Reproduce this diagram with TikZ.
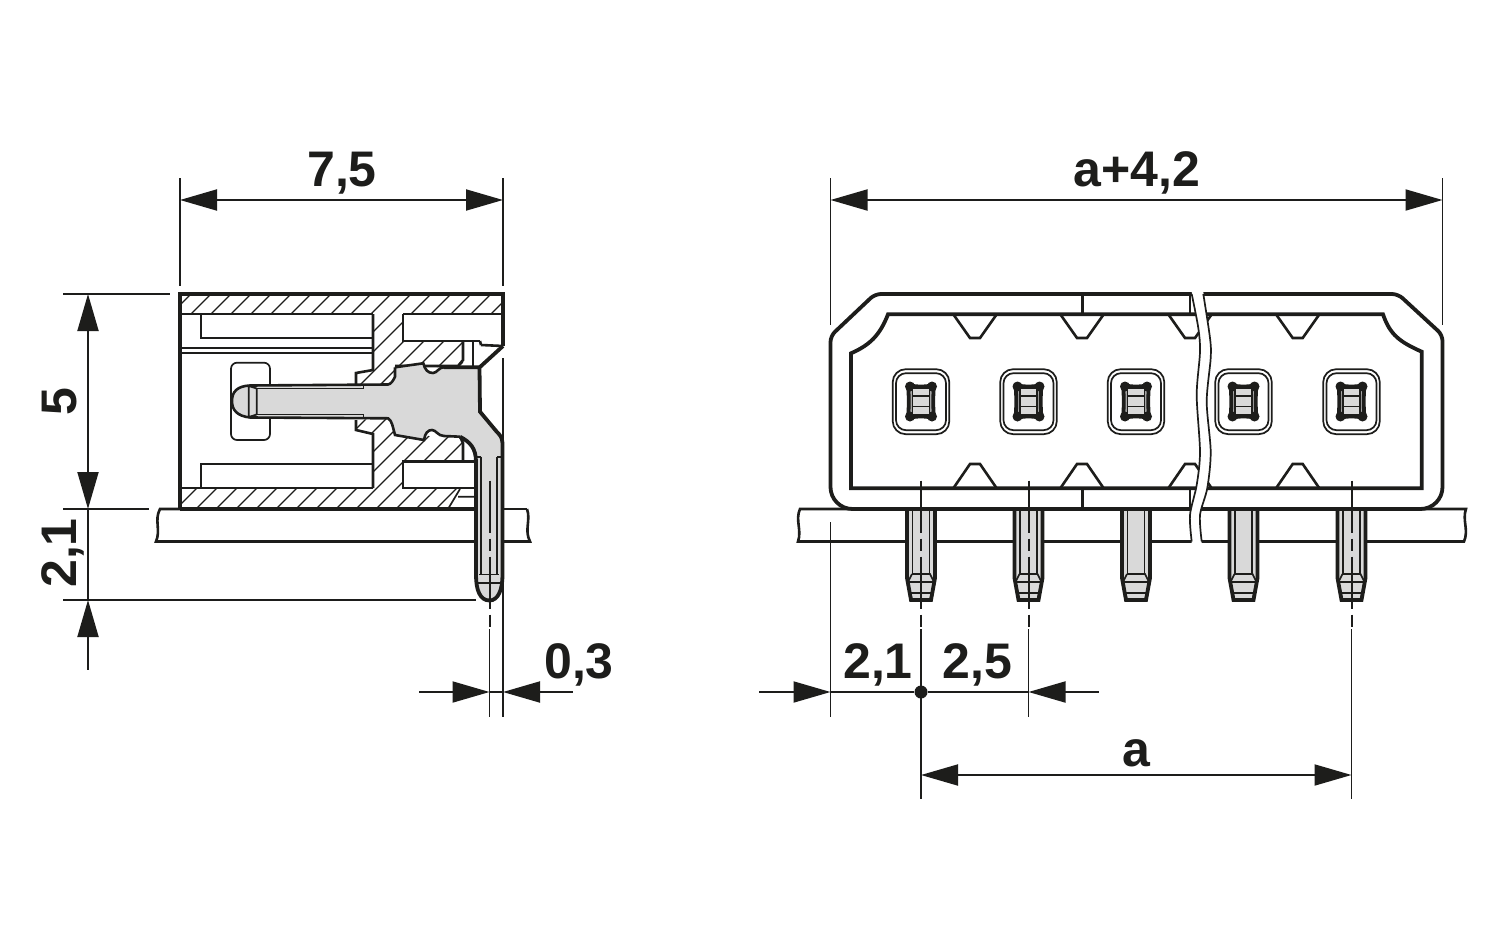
\documentclass[tikz,border=0pt]{standalone}
\usepackage{fontspec}
\setmainfont{Liberation Sans}
\usetikzlibrary{arrows.meta}
\definecolor{pingray}{HTML}{D9D9D9}
\definecolor{inkblack}{HTML}{1D1D1B}

\begin{document}
\begin{tikzpicture}[x=0.5pt,y=-0.5pt,color=inkblack,
	thinline/.style={line width=0.85pt},
	medline/.style={line width=1.3pt},
	thickline/.style={line width=1.9pt},
	hatchline/.style={line width=0.7pt},
	centerline/.style={line width=1pt,dash pattern=on 26pt off 3pt on 6pt off 3pt},
	dimline/.style={line width=0.95pt,>={Triangle[length=18.5pt,width=10.5pt]},shorten >=0pt,shorten <=0pt},
	dimlabel/.style={font=\bfseries\fontsize{25}{25}\selectfont,anchor=base,inner sep=0pt},
	dimdot/.style={circle,fill,inner sep=0pt,minimum size=6.5pt}]
	\useasboundingbox (0,0) rectangle (1500,937);
	\fill[white] (0,0) rectangle (1500,937);

	\draw[medline] (527,509) .. controls (531,520) and (524,530) .. (530,541.5) -- (156,541.5) .. controls (161,530) and (154,520) .. (160,509) -- (476,509);
	\draw[medline] (503,509) -- (527,509);

	\begin{scope}
		\clip (180,294) -- (503,294) -- (503,314) -- (403,314) -- (403,341) -- (463,341) -- (463,367) -- (395,367) -- (388,385) -- (356,385) -- (356,373) -- (373,370) -- (373,314) -- (180,314) -- cycle
			(356,420) -- (388,418) -- (395,435) -- (463,437) -- (463,461.7) -- (403,461.7) -- (403,488) -- (460,488) -- (448,509) -- (180,509) -- (180,488) -- (373,488) -- (373,434) -- (356,430) -- cycle
			(373,370) -- (403,341) -- (403,488) -- (373,488) -- cycle;
		\foreach \c in {485,505,...,1005}
			\draw[hatchline] ({\c-509},509) -- ({\c-294},294);
	\end{scope}

	\draw[medline] (180,314) -- (373,314) (403,314) -- (503,314);
	\draw[medline] (201,314) -- (201,338) -- (373,338);
	\draw[medline] (180,348) -- (373,348);
	\draw[thinline] (180,353) -- (373,353);
	\draw[medline] (373,314) -- (373,370) -- (356,373) -- (356,385);
	\draw[medline] (403,314) -- (403,341) -- (480,341);
	\draw[medline] (481,345) -- (503,346);
	\draw[thickline] (503,346) -- (480,367);
	\draw[medline] (463,341) -- (463,360) -- (458,366) -- (395,366);
	\draw[thinline] (473,341) -- (473,367);
	\draw[medline] (480,341) -- (481,345);
	\draw[medline] (356,420) -- (356,430) -- (373,434) -- (373,488);
	\draw[medline] (201,488) -- (201,464) -- (373,464);
	\draw[medline] (180,488) -- (373,488);
	\draw[medline] (475,461.7) -- (403,461.7) -- (403,488) -- (475,488);
	\draw[medline] (463,461.7) -- (463,443) -- (460,436.7);
	\draw[thinline] (458,496.7) -- (475,496.7) (460,489) -- (448,509);
	\draw[thinline,rounded corners=3pt,fill=white] (231,401) -- (231,362.7) -- (270,362.7) -- (270,440) -- (231,440) -- cycle;
	\draw[thickline] (180,509) -- (180,294) -- (503,294) -- (503,346);
	\draw[thickline] (180,509) -- (476,509);

	\fill[pingray] (250,385.5) .. controls (237,386) and (232,392) .. (232,401) .. controls (232,410) and (237,416) .. (250,417.5) -- (388,418.3)
		.. controls (392,420) and (393,428) .. (395,435) -- (424,440) .. controls (425,433) and (428,430) .. (432,430) .. controls (436,430) and (438,436) .. (444,436) -- (460,436.7)
		.. controls (470,442) and (476,448) .. (476,462) -- (476,575) .. controls (476,590) and (480,600.5) .. (489.5,600.5) .. controls (498,600.5) and (502.5,590) .. (502.5,575)
		-- (502.5,443) .. controls (502,437) and (500,435) .. (496.7,431.7) -- (480,411.7) -- (479.5,367.3) -- (444,367.3) .. controls (439,367) and (437,373) .. (433,373) .. controls (428,373) and (425,370) .. (423.3,363.3)
		-- (395,367.3) -- (395,376.7) .. controls (393,381) and (391,384) .. (388,384.5) -- cycle;
	\draw[medline] (250,385.5) .. controls (237,386) and (232,392) .. (232,401) .. controls (232,410) and (237,416) .. (250,417.5) -- (388,418.3)
		.. controls (392,420) and (393,428) .. (395,435) -- (424,440) .. controls (425,433) and (428,430) .. (432,430) .. controls (436,430) and (438,436) .. (444,436) -- (460,436.7)
		(395,367.3) -- (395,376.7) .. controls (393,381) and (391,384) .. (388,384.5) -- (250,385.5)
		(444,367.3) .. controls (439,367) and (437,373) .. (433,373) .. controls (428,373) and (425,370) .. (423.3,363.3) -- (395,367.3);
	\draw[thickline] (460,436.7) .. controls (470,442) and (476,448) .. (476,462) -- (476,575) .. controls (476,590) and (480,600.5) .. (489.5,600.5) .. controls (498,600.5) and (502.5,590) .. (502.5,575)
		-- (502.5,443) .. controls (502,437) and (500,435) .. (496.7,431.7) -- (480,411.7) -- (479.5,367.3) -- (444,367.3);
	\draw[thinline] (256.7,388.5) -- (363,388.5) (256.7,414.5) -- (363,414.5);
	\draw[thinline] (363.5,385) -- (363.5,389) (363.5,414) -- (363.5,418);
	\draw[thinline] (248.7,386) -- (248.7,417) (256.7,388.5) -- (256.7,414.5) (248.7,386) -- (256.7,388.5) (248.7,417) -- (256.7,414.5);
	\draw[thinline] (480.7,456.7) -- (480.7,574) (497.3,456.7) -- (497.3,574);
	\draw[thinline] (476,456.7) -- (480.7,456.7) (497.3,456.7) -- (502.5,456.7);
	\draw[thinline] (479,574.5) -- (499,574.5) (477,583) -- (501,583);

	\draw[medline] (798,541.5) .. controls (802,530) and (795,520) .. (800,509) -- (1466,509) .. controls (1462,520) and (1469,530) .. (1464,541.5) -- cycle;

	\foreach \x in {921,1028.5,1136,1243.5,1351.5} {
		\begin{scope}[shift={(\x,0)}]
			\draw[thickline,fill=pingray] (-14,509) -- (-14,578) -- (-10,600) -- (10,600) -- (14,578) -- (14,509);
			\draw[thinline] (-8.5,509) -- (-8.5,574) (8.5,509) -- (8.5,574);
			\draw[thinline] (-9,574) -- (9,574) -- (13,582) -- (9.5,598) (-9,574) -- (-13,582) -- (-9.5,598);
			\draw[thinline] (-13,582) -- (13,582) (-10.5,593) -- (10.5,593);
			\draw[thinline,rounded corners=6.5pt,fill=white] (-28.3,369.2) rectangle (28.3,434.2);
			\draw[thinline,rounded corners=5pt] (-25,373.2) rectangle (25,430.2);
			\draw[thickline,fill=gray!70,line join=round] (-13,385) .. controls (-4,387) and (4,387) .. (13,385) .. controls (12,395) and (12,408) .. (13,418) .. controls (4,416) and (-4,416) .. (-13,418) .. controls (-12,408) and (-12,395) .. (-13,385) -- cycle;
			\foreach \sx in {-11,11}
				\foreach \sy in {386.5,416.5}
					\fill (\sx,\sy) circle[radius=5];
			\draw[thinline,fill=pingray] (-8.5,388.5) -- (8.5,388.5) -- (8.5,414.5) -- (-8.5,414.5) -- cycle;
			\draw[thinline] (-8.5,396) -- (8.5,396) (-8.5,406.5) -- (8.5,406.5);
		\end{scope}
	}

	\foreach \x in {975,1082,1190,1297.7} {
		\draw[medline,fill=white] (\x-21.7,314.3) -- (\x-5,338) -- (\x+5,338) -- (\x+21.7,314.3);
		\draw[medline,fill=white] (\x-21.7,488.3) -- (\x-5,464) -- (\x+5,464) -- (\x+21.7,488.3);
	}
	\foreach \x in {1082.3,1190}
		\draw[medline] (\x,294) -- (\x,314.3) (\x,488.3) -- (\x,509);
	\draw[thickline] (888,314.3) -- (1383,314.3) .. controls (1390,335) and (1400,342) .. (1421.7,351.7) -- (1421.7,488.3) -- (851,488.3) -- (851,353.3) .. controls (870,345) and (880,335) .. cycle;
	\draw[thickline,rounded corners=3pt] (875,294) -- (1398,294) -- (1442.5,335) [rounded corners=11pt] -- (1442.5,509) -- (830.5,509) [rounded corners=3pt] -- (830.5,336) -- cycle;

	\fill[white] plot[smooth] coordinates {(1191.7,292) (1198.3,328) (1200,352) (1196.7,395) (1200,451.7) (1196.7,485) (1190,515) (1191.7,543)}
		-- plot[smooth] coordinates {(1201.7,543) (1200,515) (1207.3,488) (1210.7,451.7) (1206.7,401.7) (1210.7,358) (1210,338) (1203.3,292)} -- cycle;
	\draw[thinline] plot[smooth] coordinates {(1191.7,294) (1198.3,328) (1200,352) (1196.7,395) (1200,451.7) (1196.7,485) (1190,515) (1191.7,541.5)};
	\draw[thinline] plot[smooth] coordinates {(1203.3,294) (1210,338) (1210.7,358) (1206.7,401.7) (1210.7,451.7) (1207.3,488) (1200,515) (1201.7,541.5)};

	\coordinate (w0) at (180,200);
	\coordinate (w1) at (503,200);
	\coordinate (t0) at (830.5,200);
	\coordinate (t1) at (1442.5,200);
	\coordinate (h0) at (88,294);
	\coordinate (h1) at (88,509);
	\coordinate (h2) at (88,600);
	\coordinate (h3) at (88,670);
	\coordinate (o0) at (419,692);
	\coordinate (o1) at (489.5,692);
	\coordinate (o2) at (503,692);
	\coordinate (o3) at (573,692);
	\coordinate (p0) at (759,692);
	\coordinate (p1) at (830.5,692);
	\coordinate (p2) at (1028.5,692);
	\coordinate (p3) at (1099,692);
	\coordinate (a0) at (921,775);
	\coordinate (a1) at (1351.5,775);
	\node[dimdot] (dot0) at (921,692) {};

	\draw[dimline] (180,178) -- (180,286) (503,178) -- (503,286);
	\draw[dimline] (830.5,178) -- (830.5,325) (1442.5,178) -- (1442.5,325);
	\draw[dimline] (63,294) -- (170,294) (63,509) -- (149,509) (63,600) -- (476,600);
	\draw[dimline] (503,358) -- (503,717);
	\draw[dimline] (830.5,522) -- (830.5,717);

	\draw[centerline] (489.5,480.7) -- (489.5,629);
	\draw[dimline] (489.5,629) -- (489.5,717);
	\foreach \x/\e in {921/799,1028.5/717,1351.5/799} {
		\draw[centerline] (\x,480.7) -- (\x,629);
		\draw[dimline] (\x,629) -- (\x,\e);
	}

	\draw[dimline,<->] (w0) -- (w1);
	\draw[dimline,<->] (t0) -- (t1);
	\draw[dimline,<->] (h0) -- (h1);
	\draw[dimline] (h1) -- (h2);
	\draw[dimline,<-] (h2) -- (h3);
	\draw[dimline,->] (o0) -- (o1);
	\draw[dimline] (o1) -- (o2);
	\draw[dimline,<-] (o2) -- (o3);
	\draw[dimline,->] (p0) -- (p1);
	\draw[dimline] (p1) -- (dot0) -- (p2);
	\draw[dimline,<-] (p2) -- (p3);
	\draw[dimline,<->] (a0) -- (a1);

	\node[dimlabel] (l0) at (342,186) {7,5};
	\node[dimlabel] (l1) at (1137,186) {a+4,2};
	\node[dimlabel,rotate=90] (l2) at (76.7,402) {5};
	\node[dimlabel,rotate=90] (l3) at (76.7,553) {2,1};
	\node[dimlabel] (l4) at (579,678) {0,3};
	\node[dimlabel] (l5) at (878,678) {2,1};
	\node[dimlabel] (l6) at (977.5,678) {2,5};
	\node[dimlabel] (l7) at (1136,766) {a};
\end{tikzpicture}
\end{document}
